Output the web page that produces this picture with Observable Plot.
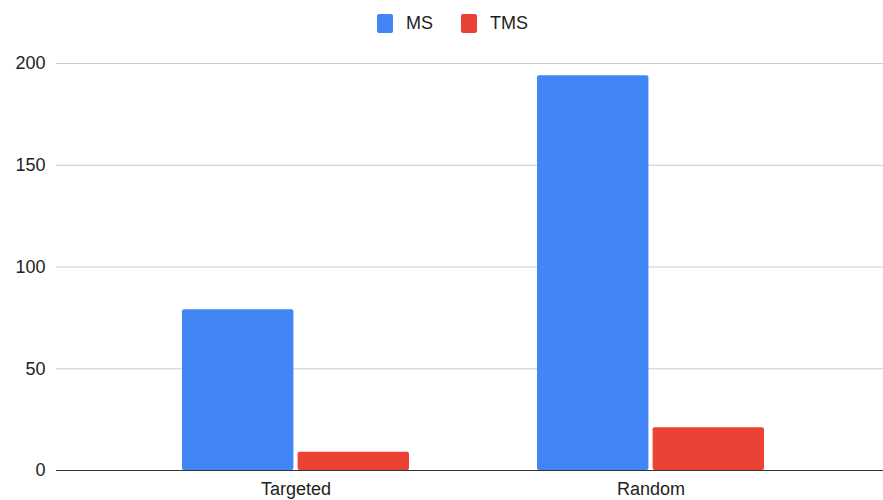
<!DOCTYPE html>
<html>
<head>
<meta charset="utf-8">
<script src="https://cdn.jsdelivr.net/npm/d3@7"></script>
<script src="https://cdn.jsdelivr.net/npm/@observablehq/plot@0.6"></script>
<style>
  html, body { margin: 0; padding: 0; background: #fff; }
  body { width: 883px; height: 500px; overflow: hidden; font-family: "Liberation Sans", Arial, sans-serif; }
  #legend { height: 40px; position: relative; font-size: 18px; color: #222; }
  .item { position: absolute; top: 13px; display: flex; align-items: center; }
  .sw { width: 16px; height: 19px; border-radius: 2px; margin-right: 13px; }
</style>
</head>
<body>
<div id="legend"></div>
<div id="chart"></div>
<script>
const categories = ["Targeted", "Random"];
const series = ["MS", "TMS"];
const msValues = [79, 194];
const tmsValues = [9, 21];
const yTicks = [0, 50, 100, 150, 200];
const colors = ["#4285F4", "#EA4335"];

const rows = [];
categories.forEach((c, i) => {
  rows.push({category: c, series: "MS", value: msValues[i]});
  rows.push({category: c, series: "TMS", value: tmsValues[i]});
});

// legend
const legend = document.getElementById("legend");
const lefts = [377, 461];
series.forEach((s, i) => {
  const it = document.createElement("div");
  it.className = "item";
  it.style.left = lefts[i] + "px";
  it.innerHTML = `<div class="sw" style="background:${colors[i]}"></div><span>${s}</span>`;
  legend.appendChild(it);
});

const half = 115.6;
const chart = Plot.plot({
  width: 883,
  height: 460,
  marginLeft: 56,
  marginRight: 0,
  marginTop: 23,
  marginBottom: 30,
  style: {fontFamily: "'Liberation Sans', Arial, sans-serif", fontSize: "18px", color: "#222", background: "#fff"},
  x: {domain: categories, range: [118.5, 828.5], paddingInner: 0.36, paddingOuter: 0.18, label: null},
  y: {domain: [0, 200], label: null},
  color: {domain: series, range: colors},
  marks: [
    Plot.ruleY(yTicks.filter(d => d > 0), {stroke: "#cccccc", strokeWidth: 1}),
    Plot.barY(rows.filter(d => d.series === "MS"), {x: "category", y: "value", fill: "series", insetRight: half, rx: 2}),
    Plot.barY(rows.filter(d => d.series === "TMS"), {x: "category", y: "value", fill: "series", insetLeft: half, rx: 2}),
    Plot.ruleY([0], {stroke: "#333", strokeWidth: 1.2}),
    Plot.axisX({tickSize: 0, tickPadding: 12, label: null}),
    Plot.axisY({ticks: yTicks, tickSize: 0, tickPadding: 11, label: null})
  ]
});
document.getElementById("chart").appendChild(chart);
</script>
</body>
</html>
